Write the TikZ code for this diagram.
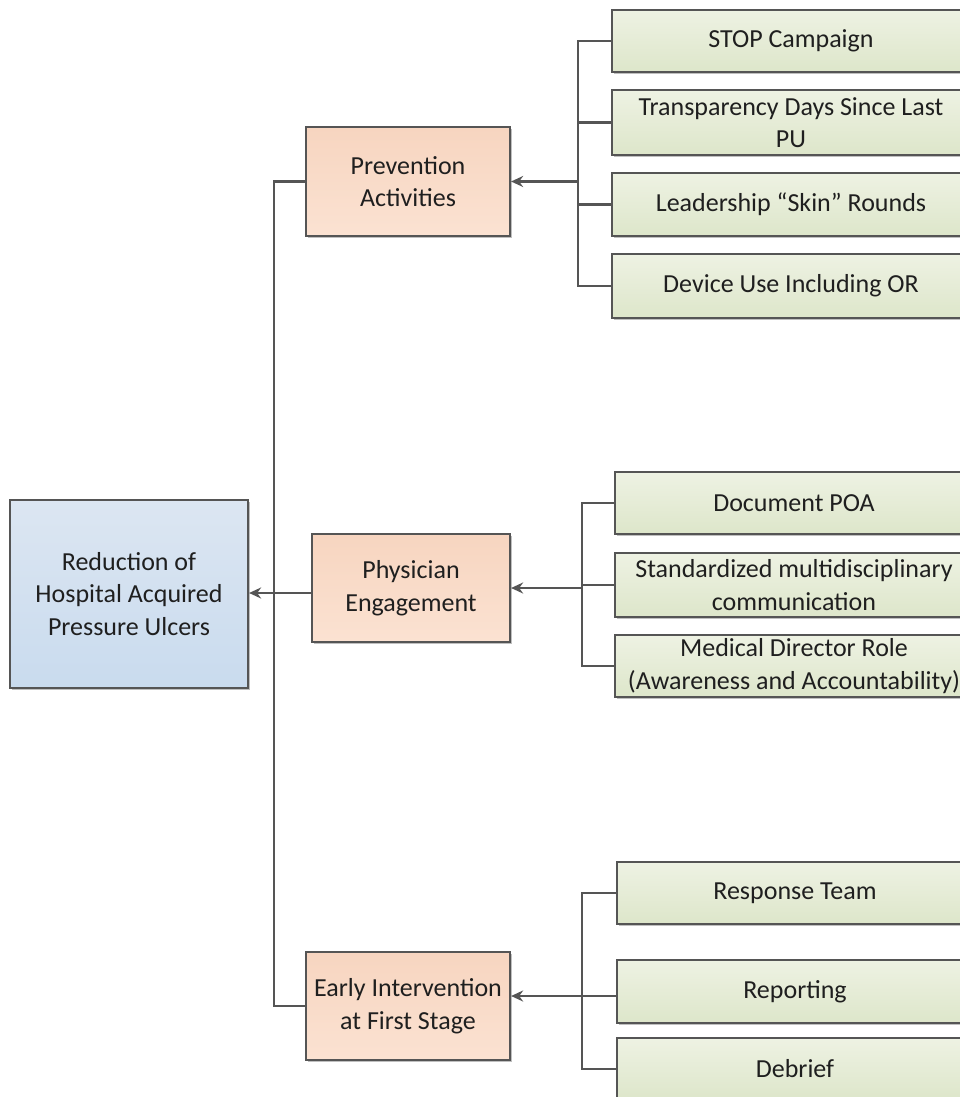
\documentclass[tikz,border=0pt]{standalone}
\usepackage{fontspec}
\setmainfont{Carlito}
\usetikzlibrary{arrows.meta,shadows}
\definecolor{edge}{HTML}{555555}
\definecolor{txt}{HTML}{1F1F1F}
\tikzset{
  box/.style={draw=edge, line width=2.2pt, align=center, text=txt,
    font=\fontsize{26}{32.5}\selectfont, inner sep=0pt,
    drop shadow={shadow xshift=2pt, shadow yshift=-2pt, opacity=0.25, fill=black}},
  rootbox/.style={box, top color=rootA, bottom color=rootB},
  midbox/.style={box, top color=midA, bottom color=midB},
  leafbox/.style={box, top color=leafA, bottom color=leafB},
  conn/.style={draw=edge, line width=2.2pt},
  arr/.style={conn, -{Stealth[length=12pt,width=11pt]}}
}
\definecolor{rootA}{HTML}{DCE6F2}
\definecolor{rootB}{HTML}{C9DBEE}
\definecolor{midA}{HTML}{F7D5C0}
\definecolor{midB}{HTML}{FBE2D2}
\definecolor{leafA}{HTML}{EEF2E3}
\definecolor{leafB}{HTML}{DDE6CA}
\begin{document}
\begin{tikzpicture}[x=1pt,y=-1pt]
\useasboundingbox[fill=white] (0,0) rectangle (960,1097);

% root
\node[rootbox, minimum width=238pt, minimum height=188pt] (root) at (129,594)
  {Reduction of\\Hospital Acquired\\Pressure Ulcers};

% middle
\node[midbox, minimum width=204pt, minimum height=109pt] (prev) at (408,181.5)
  {Prevention\\Activities};
\node[midbox, minimum width=198pt, minimum height=108pt] (phys) at (411,588)
  {Physician\\Engagement};
\node[midbox, minimum width=204pt, minimum height=108pt] (early) at (408,1006)
  {Early Intervention\\at First Stage};

% leaves, prevention
\node[leafbox, minimum width=358pt, minimum height=62pt] (stop) at (791,41) {STOP Campaign};
\node[leafbox, minimum width=358pt, minimum height=65pt] (trans) at (791,122.5) {Transparency Days Since Last\\PU};
\node[leafbox, minimum width=358pt, minimum height=63pt] (lead) at (791,204.5) {Leadership “Skin” Rounds};
\node[leafbox, minimum width=358pt, minimum height=64pt] (dev) at (791,286) {Device Use Including OR};

% leaves, physician
\node[leafbox, minimum width=358pt, minimum height=62pt] (doc) at (794,503) {Document POA};
\node[leafbox, minimum width=358pt, minimum height=64pt] (std) at (794,585) {Standardized multidisciplinary\\communication};
\node[leafbox, minimum width=358pt, minimum height=62pt] (med) at (794,666) {Medical Director Role\\(Awareness and Accountability)};

% leaves, early
\node[leafbox, minimum width=356pt, minimum height=62pt] (resp) at (795,893) {Response Team};
\node[leafbox, minimum width=356pt, minimum height=63pt] (rep) at (795,991.5) {Reporting};
\node[leafbox, minimum width=356pt, minimum height=62pt] (deb) at (795,1069) {Debrief};

% bus coordinates
\coordinate (pb) at (578,181.5);
\coordinate (hb) at (582,588);
\coordinate (eb) at (582,996);
\coordinate (tr) at (274,0);
\coordinate (ra) at (0,593);

% prevention group
\draw[conn] (stop.west) -| (pb);
\draw[conn] (trans.west) -| (pb);
\draw[conn] (lead.west) -| (pb);
\draw[conn] (dev.west) -| (pb);
\draw[arr] (pb) -- (prev.east);

% physician group
\draw[conn] (doc.west) -| (hb);
\draw[conn] (std.west) -| (hb);
\draw[conn] (med.west) -| (hb);
\draw[arr] (hb) -- (phys.east);

% early group
\draw[conn] (resp.west) -| (eb);
\draw[conn] (deb.west) -| (eb);
\draw[arr] (rep.west |- eb) -- (early.east |- eb);

% trunk
\draw[conn] (prev.west) -| (tr |- early.west) -- (early.west);
\draw[arr] (phys.west |- ra) -- (root.east |- ra);
\end{tikzpicture}
\end{document}
